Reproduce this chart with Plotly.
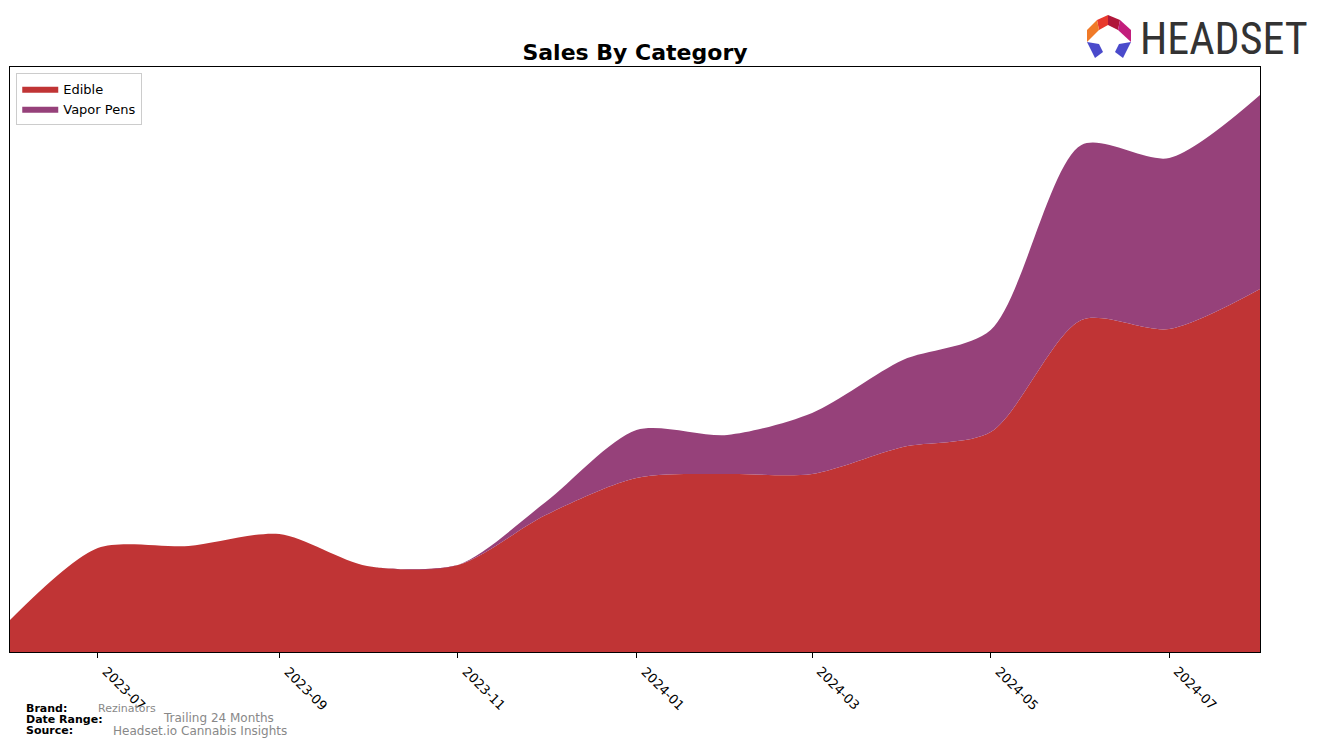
import plotly.graph_objects as go

# monthly values (arbitrary units)
months = ["2023-06-01", "2023-07-01", "2023-08-01", "2023-09-01", "2023-10-01",
          "2023-11-01", "2023-12-01", "2024-01-01", "2024-02-01", "2024-03-01",
          "2024-04-01", "2024-05-01", "2024-06-01", "2024-07-01", "2024-08-01"]
edible = [32, 104, 106, 118, 86, 87, 137, 174, 178, 178, 205, 220, 332, 323, 363]
vapor_pens = [0, 0, 0, 0, 0, 0, 13, 48, 39, 61, 87, 102, 175, 171, 194]

tick_vals = ["2023-07-01", "2023-09-01", "2023-11-01", "2024-01-01",
             "2024-03-01", "2024-05-01", "2024-07-01"]
tick_text = ["2023-07", "2023-09", "2023-11", "2024-01", "2024-03", "2024-05", "2024-07"]

RED = "#C03435"
PURPLE = "#96417A"
FONT = "DejaVu Sans"

fig = go.Figure()
fig.add_trace(go.Scatter(x=months, y=edible, name="Edible", stackgroup="one",
                         mode="lines", line=dict(width=0, shape="spline", smoothing=0.8),
                         fillcolor=RED, hoverinfo="skip"))
fig.add_trace(go.Scatter(x=months, y=vapor_pens, name="Vapor Pens", stackgroup="one",
                         mode="lines", line=dict(width=0, shape="spline", smoothing=0.8),
                         fillcolor=PURPLE, hoverinfo="skip"))

# the page body adds an 8px offset, so the figure is drawn 8px smaller
fig.update_layout(
    width=1316, height=739,
    margin=dict(l=2, r=64, t=59, b=95),
    plot_bgcolor="white", paper_bgcolor="white",
    font=dict(family=FONT, color="black", size=12),
    title=dict(text="<b>Sales By Category</b>", x=(635 - 8) / 1316, xanchor="center",
               y=1 - (52 - 8) / 739, yanchor="middle", font=dict(size=22, family=FONT)),
    showlegend=True,
    legend=dict(x=0.005, y=0.99, xanchor="left", yanchor="top", traceorder="normal",
                bgcolor="white", bordercolor="#CCCCCC", borderwidth=1, itemwidth=36,
                font=dict(size=13, family=FONT), tracegroupgap=2),
    xaxis=dict(range=["2023-06-01", "2024-08-01"], tickvals=tick_vals,
               showticklabels=False, ticks="outside", ticklen=5, tickcolor="black",
               showgrid=False, zeroline=False, showline=True, linecolor="black",
               mirror=True),
    yaxis=dict(range=[0, 585], showticklabels=False, ticks="", showgrid=False,
               zeroline=False, showline=True, linecolor="black", mirror=True),
)


def to_paper(px, py):
    # screen pixel (reference coords) -> paper coords
    return (px - 10) / 1250, (652 - py) / 585


# rotated tick labels hanging down-right from each tick
_, label_top = to_paper(0, 661)
for tv, tt in zip(tick_vals, tick_text):
    fig.add_annotation(text=tt, xref="x", yref="paper", x=tv, y=label_top,
                       xshift=-1, textangle=45, showarrow=False,
                       xanchor="left", yanchor="top",
                       font=dict(size=13, family=FONT, color="black"))

# footer text
labels = [("<b>Brand:</b>", 24, 708, 11, "black"),
          ("<b>Date Range:</b>", 24, 719, 11, "black"),
          ("<b>Source:</b>", 24, 730, 11, "black"),
          ("Rezinators", 96, 708, 11, "#888888"),
          ("Trailing 24 Months", 161, 718, 12, "#888888"),
          ("Headset.io Cannabis Insights", 111, 731, 12, "#888888")]
for txt, px, py, size, col in labels:
    x, y = to_paper(px, py)
    fig.add_annotation(text=txt, xref="paper", yref="paper", x=x, y=y,
                       showarrow=False, xanchor="left", yanchor="middle",
                       font=dict(size=size, family=FONT, color=col))

# Headset logo: icon + wordmark
polys = [
    ([(1097, 20), (1108, 15), (1108, 25), (1099, 30)], "#E8392D"),
    ([(1108, 15), (1120, 20), (1118, 30), (1108, 25)], "#B0163A"),
    ([(1120, 20), (1131, 30), (1131, 42), (1118, 30)], "#C21E7C"),
    ([(1097, 20), (1099, 30), (1087, 42), (1087, 30)], "#F07A28"),
    ([(1087, 42), (1099, 44), (1103, 52), (1095, 58)], "#4A4ACB"),
    ([(1131, 42), (1119, 44), (1115, 52), (1123, 58)], "#4A4ACB"),
]
for pts, col in polys:
    path = "M " + " L ".join("%f,%f" % to_paper(*p) for p in pts) + " Z"
    fig.add_shape(type="path", path=path, xref="paper", yref="paper",
                  fillcolor=col, line=dict(width=0))
lx, ly = to_paper(1138, 39)
fig.add_annotation(text="HEADSET", xref="paper", yref="paper", x=lx, y=ly,
                   showarrow=False, xanchor="left", yanchor="middle",
                   font=dict(size=44, family="Liberation Sans Narrow, Roboto Condensed, Liberation Sans",
                             color="#333333"))

fig.write_html("out.html")
